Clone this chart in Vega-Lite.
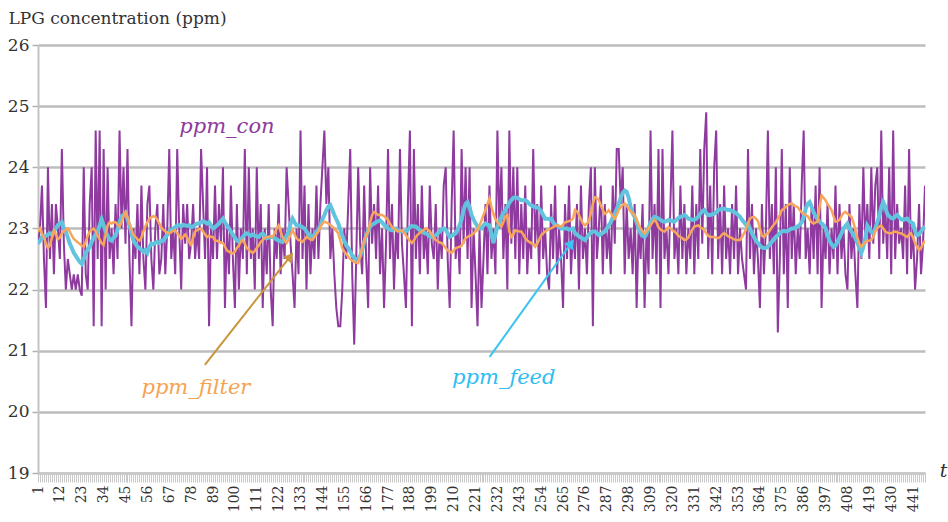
{
"$schema": "https://vega.github.io/schema/vega-lite/v6.json",
"width": 887, "height": 428,
"autosize": "none",
"padding": {"left": 38, "top": 45, "right": 23, "bottom": 49},
"background": "white",
"config": {"view": {"stroke": null}, "font": "'DejaVu Serif', serif"},
"datasets": {
"main": [
{"t":1,"c":22.75,"d":22.75,"f":22.95},{"t":2,"c":23.0,"d":22.8,"f":23.0},{"t":3,"c":23.7,"d":22.86,"f":22.92},{"t":4,"c":22.5,"d":22.85,"f":22.85},{"t":5,"c":21.7,"d":22.88,"f":22.75},{"t":6,"c":24.0,"d":22.9,"f":22.68},{"t":7,"c":22.5,"d":22.92,"f":22.72},{"t":8,"c":23.4,"d":22.9,"f":22.85},{"t":9,"c":22.25,"d":22.95,"f":22.97},{"t":10,"c":23.4,"d":23.0,"f":22.9},
{"t":11,"c":23.0,"d":23.05,"f":22.82},{"t":12,"c":22.5,"d":23.08,"f":22.85},{"t":13,"c":24.3,"d":23.1,"f":22.92},{"t":14,"c":22.75,"d":23.0,"f":22.95},{"t":15,"c":22.0,"d":22.95,"f":22.98},{"t":16,"c":22.5,"d":22.85,"f":23.0},{"t":17,"c":22.25,"d":22.75,"f":22.95},{"t":18,"c":22.0,"d":22.68,"f":22.88},{"t":19,"c":22.25,"d":22.6,"f":22.83},{"t":20,"c":22.0,"d":22.55,"f":22.8},
{"t":21,"c":22.25,"d":22.5,"f":22.77},{"t":22,"c":22.0,"d":22.45,"f":22.75},{"t":23,"c":21.9,"d":22.42,"f":22.72},{"t":24,"c":24.0,"d":22.5,"f":22.7},{"t":25,"c":22.25,"d":22.6,"f":22.78},{"t":26,"c":22.0,"d":22.65,"f":22.88},{"t":27,"c":23.4,"d":22.7,"f":22.95},{"t":28,"c":24.0,"d":22.78,"f":22.98},{"t":29,"c":21.4,"d":22.85,"f":23.0},{"t":30,"c":24.6,"d":22.9,"f":22.95},
{"t":31,"c":22.5,"d":22.95,"f":22.88},{"t":32,"c":24.6,"d":23.05,"f":22.82},{"t":33,"c":21.4,"d":23.15,"f":22.76},{"t":34,"c":24.3,"d":23.05,"f":22.73},{"t":35,"c":22.0,"d":22.95,"f":22.9},{"t":36,"c":24.0,"d":22.88,"f":23.05},{"t":37,"c":22.5,"d":22.82,"f":23.1},{"t":38,"c":23.0,"d":22.8,"f":23.08},{"t":39,"c":22.25,"d":22.85,"f":23.1},{"t":40,"c":23.4,"d":22.88,"f":23.1},
{"t":41,"c":22.5,"d":22.98,"f":23.06},{"t":42,"c":24.6,"d":23.1,"f":23.03},{"t":43,"c":23.0,"d":23.2,"f":23.1},{"t":44,"c":24.0,"d":23.22,"f":23.2},{"t":45,"c":22.75,"d":23.25,"f":23.27},{"t":46,"c":24.3,"d":23.15,"f":23.18},{"t":47,"c":22.5,"d":23.05,"f":23.08},{"t":48,"c":21.4,"d":22.92,"f":22.98},{"t":49,"c":23.0,"d":22.8,"f":22.9},{"t":50,"c":22.5,"d":22.75,"f":22.86},
{"t":51,"c":23.4,"d":22.7,"f":22.82},{"t":52,"c":22.25,"d":22.68,"f":22.8},{"t":53,"c":23.7,"d":22.65,"f":22.85},{"t":54,"c":22.5,"d":22.62,"f":22.95},{"t":55,"c":22.0,"d":22.65,"f":23.03},{"t":56,"c":23.4,"d":22.6,"f":23.1},{"t":57,"c":23.7,"d":22.7,"f":23.16},{"t":58,"c":22.5,"d":22.75,"f":23.18},{"t":59,"c":22.0,"d":22.74,"f":23.2},{"t":60,"c":23.0,"d":22.77,"f":23.19},
{"t":61,"c":23.4,"d":22.78,"f":23.14},{"t":62,"c":22.25,"d":22.76,"f":23.08},{"t":63,"c":22.5,"d":22.8,"f":23.02},{"t":64,"c":23.4,"d":22.8,"f":22.98},{"t":65,"c":22.25,"d":22.85,"f":22.95},{"t":66,"c":23.0,"d":22.9,"f":22.93},{"t":67,"c":24.3,"d":22.95,"f":22.92},{"t":68,"c":22.5,"d":22.98,"f":22.94},{"t":69,"c":23.0,"d":23.0,"f":22.96},{"t":70,"c":22.25,"d":23.02,"f":22.97},
{"t":71,"c":24.3,"d":23.05,"f":22.92},{"t":72,"c":23.0,"d":23.05,"f":22.88},{"t":73,"c":22.0,"d":23.03,"f":22.83},{"t":74,"c":23.4,"d":23.06,"f":22.86},{"t":75,"c":22.75,"d":23.05,"f":22.9},{"t":76,"c":23.4,"d":23.04,"f":22.85},{"t":77,"c":22.5,"d":23.05,"f":22.78},{"t":78,"c":22.75,"d":23.02,"f":22.73},{"t":79,"c":23.4,"d":23.03,"f":22.85},{"t":80,"c":22.5,"d":23.06,"f":22.95},
{"t":81,"c":23.0,"d":23.08,"f":22.97},{"t":82,"c":22.5,"d":23.08,"f":22.99},{"t":83,"c":24.3,"d":23.1,"f":23.0},{"t":84,"c":23.4,"d":23.12,"f":22.95},{"t":85,"c":22.5,"d":23.1,"f":22.9},{"t":86,"c":24.0,"d":23.08,"f":22.86},{"t":87,"c":21.4,"d":23.1,"f":22.88},{"t":88,"c":23.0,"d":23.05,"f":22.86},{"t":89,"c":22.5,"d":23.0,"f":22.86},{"t":90,"c":23.7,"d":23.02,"f":22.8},
{"t":91,"c":22.5,"d":23.05,"f":22.8},{"t":92,"c":23.4,"d":23.08,"f":22.78},{"t":93,"c":22.75,"d":23.12,"f":22.77},{"t":94,"c":24.0,"d":23.16,"f":22.76},{"t":95,"c":21.7,"d":23.1,"f":22.7},{"t":96,"c":23.0,"d":23.05,"f":22.64},{"t":97,"c":22.25,"d":23.0,"f":22.62},{"t":98,"c":23.7,"d":22.95,"f":22.6},{"t":99,"c":22.5,"d":22.9,"f":22.59},{"t":100,"c":21.7,"d":22.85,"f":22.62},
{"t":101,"c":23.4,"d":22.8,"f":22.68},{"t":102,"c":22.0,"d":22.78,"f":22.72},{"t":103,"c":23.0,"d":22.82,"f":22.78},{"t":104,"c":22.5,"d":22.86,"f":22.81},{"t":105,"c":24.3,"d":22.9,"f":22.75},{"t":106,"c":22.25,"d":22.92,"f":22.68},{"t":107,"c":24.0,"d":22.9,"f":22.65},{"t":108,"c":22.5,"d":22.88,"f":22.62},{"t":109,"c":23.0,"d":22.9,"f":22.6},{"t":110,"c":22.0,"d":22.88,"f":22.63},
{"t":111,"c":24.0,"d":22.87,"f":22.68},{"t":112,"c":22.5,"d":22.86,"f":22.72},{"t":113,"c":23.4,"d":22.9,"f":22.78},{"t":114,"c":21.7,"d":22.92,"f":22.81},{"t":115,"c":23.0,"d":22.88,"f":22.84},{"t":116,"c":22.25,"d":22.84,"f":22.86},{"t":117,"c":23.4,"d":22.85,"f":22.86},{"t":118,"c":22.0,"d":22.86,"f":22.87},{"t":119,"c":21.4,"d":22.86,"f":22.86},{"t":120,"c":23.0,"d":22.84,"f":22.92},
{"t":121,"c":22.5,"d":22.82,"f":23.0},{"t":122,"c":23.4,"d":22.8,"f":23.05},{"t":123,"c":22.25,"d":22.79,"f":22.95},{"t":124,"c":23.0,"d":22.78,"f":22.86},{"t":125,"c":22.5,"d":22.82,"f":22.8},{"t":126,"c":24.0,"d":22.88,"f":22.76},{"t":127,"c":23.4,"d":22.95,"f":22.82},{"t":128,"c":22.75,"d":23.08,"f":22.9},{"t":129,"c":22.25,"d":23.16,"f":22.97},{"t":130,"c":21.7,"d":23.1,"f":22.9},
{"t":131,"c":23.0,"d":23.05,"f":22.84},{"t":132,"c":22.25,"d":23.05,"f":22.81},{"t":133,"c":24.6,"d":23.04,"f":22.8},{"t":134,"c":22.5,"d":23.02,"f":22.78},{"t":135,"c":23.7,"d":23.0,"f":22.82},{"t":136,"c":22.0,"d":22.95,"f":22.86},{"t":137,"c":23.4,"d":22.9,"f":22.84},{"t":138,"c":22.25,"d":22.88,"f":22.82},{"t":139,"c":23.0,"d":22.86,"f":22.81},{"t":140,"c":22.5,"d":22.9,"f":22.86},
{"t":141,"c":23.7,"d":22.95,"f":22.9},{"t":142,"c":22.5,"d":22.98,"f":22.95},{"t":143,"c":23.4,"d":23.05,"f":23.02},{"t":144,"c":24.0,"d":23.15,"f":23.08},{"t":145,"c":24.6,"d":23.22,"f":23.11},{"t":146,"c":23.4,"d":23.3,"f":23.1},{"t":147,"c":24.0,"d":23.36,"f":23.08},{"t":148,"c":22.5,"d":23.38,"f":23.06},{"t":149,"c":23.0,"d":23.3,"f":23.03},{"t":150,"c":22.25,"d":23.22,"f":23.0},
{"t":151,"c":21.7,"d":23.15,"f":22.96},{"t":152,"c":21.4,"d":23.08,"f":22.92},{"t":153,"c":21.4,"d":22.98,"f":22.8},{"t":154,"c":22.0,"d":22.88,"f":22.68},{"t":155,"c":23.0,"d":22.8,"f":22.62},{"t":156,"c":22.5,"d":22.72,"f":22.58},{"t":157,"c":23.4,"d":22.68,"f":22.54},{"t":158,"c":24.3,"d":22.62,"f":22.5},{"t":159,"c":22.25,"d":22.56,"f":22.47},{"t":160,"c":21.1,"d":22.52,"f":22.45},
{"t":161,"c":22.5,"d":22.49,"f":22.44},{"t":162,"c":24.0,"d":22.5,"f":22.43},{"t":163,"c":22.75,"d":22.55,"f":22.55},{"t":164,"c":22.25,"d":22.65,"f":22.68},{"t":165,"c":23.7,"d":22.78,"f":22.8},{"t":166,"c":22.5,"d":22.88,"f":22.88},{"t":167,"c":21.7,"d":22.96,"f":22.95},{"t":168,"c":24.0,"d":23.03,"f":23.1},{"t":169,"c":22.75,"d":23.06,"f":23.22},{"t":170,"c":23.4,"d":23.08,"f":23.27},
{"t":171,"c":22.5,"d":23.1,"f":23.25},{"t":172,"c":23.7,"d":23.12,"f":23.22},{"t":173,"c":22.25,"d":23.13,"f":23.22},{"t":174,"c":23.0,"d":23.1,"f":23.22},{"t":175,"c":21.7,"d":23.06,"f":23.2},{"t":176,"c":22.75,"d":23.03,"f":23.17},{"t":177,"c":24.3,"d":23.0,"f":23.14},{"t":178,"c":22.5,"d":22.98,"f":23.08},{"t":179,"c":23.4,"d":22.97,"f":23.02},{"t":180,"c":22.0,"d":23.0,"f":23.0},
{"t":181,"c":23.0,"d":23.0,"f":22.97},{"t":182,"c":22.5,"d":22.97,"f":22.95},{"t":183,"c":24.3,"d":22.96,"f":22.96},{"t":184,"c":22.75,"d":22.95,"f":22.97},{"t":185,"c":22.25,"d":22.95,"f":22.93},{"t":186,"c":21.7,"d":22.95,"f":22.89},{"t":187,"c":23.4,"d":22.98,"f":22.84},{"t":188,"c":24.6,"d":23.02,"f":22.8},{"t":189,"c":21.4,"d":23.04,"f":22.76},{"t":190,"c":24.3,"d":23.03,"f":22.8},
{"t":191,"c":22.5,"d":23.03,"f":22.86},{"t":192,"c":23.4,"d":23.0,"f":22.9},{"t":193,"c":22.25,"d":22.97,"f":22.93},{"t":194,"c":23.7,"d":22.95,"f":22.95},{"t":195,"c":22.5,"d":22.93,"f":22.98},{"t":196,"c":23.0,"d":22.92,"f":23.0},{"t":197,"c":22.25,"d":22.9,"f":22.98},{"t":198,"c":23.7,"d":22.87,"f":22.95},{"t":199,"c":22.75,"d":22.86,"f":22.9},{"t":200,"c":22.5,"d":22.87,"f":22.85},
{"t":201,"c":23.4,"d":22.89,"f":22.81},{"t":202,"c":22.0,"d":22.92,"f":22.79},{"t":203,"c":23.0,"d":22.95,"f":22.77},{"t":204,"c":22.5,"d":22.98,"f":22.76},{"t":205,"c":23.7,"d":23.0,"f":22.72},{"t":206,"c":24.0,"d":22.98,"f":22.68},{"t":207,"c":22.5,"d":22.92,"f":22.64},{"t":208,"c":21.7,"d":22.86,"f":22.62},{"t":209,"c":23.4,"d":22.88,"f":22.6},{"t":210,"c":24.6,"d":22.9,"f":22.64},
{"t":211,"c":22.5,"d":22.92,"f":22.68},{"t":212,"c":23.0,"d":22.98,"f":22.69},{"t":213,"c":22.25,"d":23.05,"f":22.7},{"t":214,"c":24.3,"d":23.15,"f":22.72},{"t":215,"c":22.75,"d":23.3,"f":22.78},{"t":216,"c":24.0,"d":23.4,"f":22.84},{"t":217,"c":22.5,"d":23.43,"f":22.86},{"t":218,"c":24.0,"d":23.35,"f":22.88},{"t":219,"c":21.7,"d":23.22,"f":22.89},{"t":220,"c":23.0,"d":23.15,"f":22.92},
{"t":221,"c":22.25,"d":23.08,"f":22.95},{"t":222,"c":21.4,"d":23.04,"f":22.98},{"t":223,"c":23.0,"d":23.0,"f":23.05},{"t":224,"c":21.7,"d":23.0,"f":23.13},{"t":225,"c":22.5,"d":23.05,"f":23.22},{"t":226,"c":23.4,"d":23.08,"f":23.3},{"t":227,"c":22.25,"d":23.06,"f":23.4},{"t":228,"c":23.7,"d":23.05,"f":23.49},{"t":229,"c":22.5,"d":22.9,"f":23.35},{"t":230,"c":23.0,"d":22.76,"f":23.24},
{"t":231,"c":22.25,"d":22.9,"f":23.15},{"t":232,"c":24.6,"d":23.03,"f":23.1},{"t":233,"c":23.0,"d":23.1,"f":23.06},{"t":234,"c":24.0,"d":23.18,"f":23.03},{"t":235,"c":22.5,"d":23.25,"f":23.1},{"t":236,"c":23.4,"d":23.3,"f":23.2},{"t":237,"c":22.0,"d":23.36,"f":23.22},{"t":238,"c":24.6,"d":23.42,"f":22.95},{"t":239,"c":22.75,"d":23.46,"f":22.86},{"t":240,"c":24.0,"d":23.5,"f":22.9},
{"t":241,"c":22.5,"d":23.51,"f":22.97},{"t":242,"c":24.0,"d":23.5,"f":22.96},{"t":243,"c":22.25,"d":23.48,"f":22.95},{"t":244,"c":23.4,"d":23.46,"f":22.95},{"t":245,"c":22.5,"d":23.46,"f":22.9},{"t":246,"c":23.7,"d":23.46,"f":22.84},{"t":247,"c":22.25,"d":23.44,"f":22.8},{"t":248,"c":23.0,"d":23.4,"f":22.78},{"t":249,"c":22.5,"d":23.38,"f":22.76},{"t":250,"c":24.3,"d":23.36,"f":22.74},
{"t":251,"c":22.75,"d":23.35,"f":22.7},{"t":252,"c":23.4,"d":23.34,"f":22.75},{"t":253,"c":22.25,"d":23.32,"f":22.82},{"t":254,"c":23.7,"d":23.28,"f":22.89},{"t":255,"c":22.5,"d":23.22,"f":22.92},{"t":256,"c":23.0,"d":23.16,"f":22.95},{"t":257,"c":22.25,"d":23.16,"f":22.97},{"t":258,"c":22.0,"d":23.15,"f":22.99},{"t":259,"c":23.4,"d":23.16,"f":23.0},{"t":260,"c":22.5,"d":23.1,"f":23.02},
{"t":261,"c":23.7,"d":23.06,"f":23.04},{"t":262,"c":22.25,"d":23.05,"f":23.05},{"t":263,"c":23.0,"d":23.02,"f":23.04},{"t":264,"c":22.5,"d":23.0,"f":23.03},{"t":265,"c":21.7,"d":23.0,"f":23.06},{"t":266,"c":23.4,"d":23.0,"f":23.1},{"t":267,"c":22.5,"d":23.0,"f":23.11},{"t":268,"c":23.7,"d":22.98,"f":23.12},{"t":269,"c":22.25,"d":22.99,"f":23.13},{"t":270,"c":23.0,"d":23.0,"f":23.16},
{"t":271,"c":22.5,"d":22.92,"f":23.3},{"t":272,"c":23.4,"d":22.9,"f":23.28},{"t":273,"c":22.0,"d":22.87,"f":23.22},{"t":274,"c":23.7,"d":22.85,"f":23.15},{"t":275,"c":22.5,"d":22.83,"f":23.08},{"t":276,"c":23.0,"d":22.81,"f":23.05},{"t":277,"c":22.25,"d":22.85,"f":23.08},{"t":278,"c":23.4,"d":22.9,"f":23.12},{"t":279,"c":24.0,"d":22.93,"f":23.25},{"t":280,"c":21.4,"d":22.95,"f":23.4},
{"t":281,"c":24.0,"d":22.95,"f":23.51},{"t":282,"c":22.5,"d":22.92,"f":23.5},{"t":283,"c":23.0,"d":22.89,"f":23.46},{"t":284,"c":23.7,"d":22.9,"f":23.38},{"t":285,"c":22.25,"d":22.93,"f":23.3},{"t":286,"c":23.4,"d":22.95,"f":23.24},{"t":287,"c":22.5,"d":23.0,"f":23.26},{"t":288,"c":23.0,"d":23.05,"f":23.3},{"t":289,"c":22.25,"d":23.1,"f":23.25},{"t":290,"c":23.7,"d":23.18,"f":23.2},
{"t":291,"c":22.75,"d":23.24,"f":23.16},{"t":292,"c":24.3,"d":23.32,"f":23.22},{"t":293,"c":24.3,"d":23.4,"f":23.3},{"t":294,"c":23.4,"d":23.5,"f":23.35},{"t":295,"c":24.0,"d":23.58,"f":23.38},{"t":296,"c":22.25,"d":23.62,"f":23.41},{"t":297,"c":23.4,"d":23.6,"f":23.38},{"t":298,"c":22.5,"d":23.5,"f":23.32},{"t":299,"c":23.0,"d":23.35,"f":23.28},{"t":300,"c":22.25,"d":23.25,"f":23.25},
{"t":301,"c":23.4,"d":23.19,"f":23.22},{"t":302,"c":21.7,"d":23.1,"f":23.15},{"t":303,"c":23.0,"d":23.0,"f":23.06},{"t":304,"c":22.5,"d":22.92,"f":23.0},{"t":305,"c":23.4,"d":22.88,"f":22.95},{"t":306,"c":21.7,"d":22.86,"f":22.92},{"t":307,"c":23.0,"d":22.92,"f":22.96},{"t":308,"c":22.25,"d":23.0,"f":23.0},{"t":309,"c":24.6,"d":23.1,"f":23.05},{"t":310,"c":22.5,"d":23.15,"f":23.1},
{"t":311,"c":23.4,"d":23.19,"f":23.14},{"t":312,"c":22.25,"d":23.18,"f":23.1},{"t":313,"c":24.3,"d":23.16,"f":23.02},{"t":314,"c":21.7,"d":23.14,"f":22.98},{"t":315,"c":24.3,"d":23.12,"f":22.96},{"t":316,"c":22.5,"d":23.11,"f":22.95},{"t":317,"c":23.0,"d":23.12,"f":22.98},{"t":318,"c":22.25,"d":23.14,"f":23.02},{"t":319,"c":23.4,"d":23.13,"f":23.0},{"t":320,"c":24.6,"d":23.12,"f":22.97},
{"t":321,"c":22.5,"d":23.11,"f":22.95},{"t":322,"c":23.0,"d":23.14,"f":22.92},{"t":323,"c":22.25,"d":23.17,"f":22.88},{"t":324,"c":23.7,"d":23.19,"f":22.86},{"t":325,"c":22.5,"d":23.2,"f":22.84},{"t":326,"c":23.4,"d":23.22,"f":22.81},{"t":327,"c":22.25,"d":23.2,"f":22.82},{"t":328,"c":23.0,"d":23.16,"f":22.85},{"t":329,"c":22.5,"d":23.15,"f":22.92},{"t":330,"c":23.7,"d":23.14,"f":22.98},
{"t":331,"c":22.25,"d":23.14,"f":23.03},{"t":332,"c":23.4,"d":23.16,"f":23.04},{"t":333,"c":22.5,"d":23.19,"f":23.05},{"t":334,"c":24.3,"d":23.24,"f":23.02},{"t":335,"c":22.75,"d":23.28,"f":23.0},{"t":336,"c":24.3,"d":23.3,"f":22.97},{"t":337,"c":24.9,"d":23.25,"f":22.92},{"t":338,"c":22.5,"d":23.22,"f":22.88},{"t":339,"c":23.7,"d":23.22,"f":22.86},{"t":340,"c":22.25,"d":23.23,"f":22.86},
{"t":341,"c":24.0,"d":23.24,"f":22.86},{"t":342,"c":24.6,"d":23.26,"f":22.85},{"t":343,"c":22.5,"d":23.3,"f":22.84},{"t":344,"c":23.4,"d":23.31,"f":22.86},{"t":345,"c":22.25,"d":23.32,"f":22.9},{"t":346,"c":23.7,"d":23.32,"f":22.92},{"t":347,"c":22.5,"d":23.31,"f":22.9},{"t":348,"c":23.0,"d":23.3,"f":22.87},{"t":349,"c":22.25,"d":23.3,"f":22.86},{"t":350,"c":23.4,"d":23.28,"f":22.84},
{"t":351,"c":22.5,"d":23.27,"f":22.82},{"t":352,"c":23.7,"d":23.25,"f":22.81},{"t":353,"c":22.25,"d":23.22,"f":22.81},{"t":354,"c":23.0,"d":23.19,"f":22.81},{"t":355,"c":22.5,"d":23.14,"f":22.86},{"t":356,"c":22.25,"d":23.1,"f":22.92},{"t":357,"c":22.0,"d":23.06,"f":22.98},{"t":358,"c":24.3,"d":23.08,"f":23.08},{"t":359,"c":22.5,"d":23.0,"f":23.16},{"t":360,"c":23.4,"d":22.92,"f":23.18},
{"t":361,"c":22.25,"d":22.86,"f":23.19},{"t":362,"c":23.0,"d":22.8,"f":23.16},{"t":363,"c":22.5,"d":22.76,"f":23.12},{"t":364,"c":21.7,"d":22.72,"f":23.0},{"t":365,"c":23.4,"d":22.69,"f":22.88},{"t":366,"c":22.25,"d":22.68,"f":22.86},{"t":367,"c":23.0,"d":22.68,"f":22.9},{"t":368,"c":24.6,"d":22.7,"f":22.92},{"t":369,"c":22.5,"d":22.74,"f":22.97},{"t":370,"c":23.4,"d":22.78,"f":23.02},
{"t":371,"c":22.25,"d":22.82,"f":23.06},{"t":372,"c":24.0,"d":22.86,"f":23.1},{"t":373,"c":21.3,"d":22.89,"f":23.16},{"t":374,"c":22.5,"d":22.92,"f":23.22},{"t":375,"c":24.3,"d":22.95,"f":23.3},{"t":376,"c":22.25,"d":22.96,"f":23.32},{"t":377,"c":23.4,"d":22.95,"f":23.35},{"t":378,"c":21.7,"d":22.96,"f":23.38},{"t":379,"c":24.0,"d":22.98,"f":23.4},{"t":380,"c":22.5,"d":23.0,"f":23.41},
{"t":381,"c":23.4,"d":23.0,"f":23.38},{"t":382,"c":22.25,"d":23.02,"f":23.36},{"t":383,"c":23.0,"d":23.03,"f":23.35},{"t":384,"c":22.5,"d":23.06,"f":23.3},{"t":385,"c":23.7,"d":23.1,"f":23.26},{"t":386,"c":24.6,"d":23.18,"f":23.24},{"t":387,"c":22.5,"d":23.32,"f":23.22},{"t":388,"c":23.0,"d":23.4,"f":23.2},{"t":389,"c":22.25,"d":23.43,"f":23.15},{"t":390,"c":23.4,"d":23.35,"f":23.1},
{"t":391,"c":22.5,"d":23.26,"f":23.08},{"t":392,"c":23.7,"d":23.2,"f":23.1},{"t":393,"c":22.25,"d":23.15,"f":23.11},{"t":394,"c":24.0,"d":23.11,"f":23.35},{"t":395,"c":21.7,"d":23.08,"f":23.54},{"t":396,"c":23.0,"d":23.05,"f":23.5},{"t":397,"c":22.5,"d":23.0,"f":23.46},{"t":398,"c":23.4,"d":22.9,"f":23.4},{"t":399,"c":22.25,"d":22.8,"f":23.35},{"t":400,"c":23.0,"d":22.74,"f":23.3},
{"t":401,"c":22.5,"d":22.7,"f":23.2},{"t":402,"c":23.7,"d":22.72,"f":23.11},{"t":403,"c":22.25,"d":22.78,"f":23.12},{"t":404,"c":23.4,"d":22.85,"f":23.14},{"t":405,"c":22.5,"d":22.92,"f":23.2},{"t":406,"c":23.0,"d":23.0,"f":23.25},{"t":407,"c":22.25,"d":23.04,"f":23.27},{"t":408,"c":22.0,"d":23.08,"f":23.24},{"t":409,"c":23.4,"d":23.0,"f":23.22},{"t":410,"c":22.5,"d":22.95,"f":23.19},
{"t":411,"c":23.0,"d":22.9,"f":23.1},{"t":412,"c":22.25,"d":22.84,"f":22.97},{"t":413,"c":21.7,"d":22.76,"f":22.85},{"t":414,"c":23.4,"d":22.68,"f":22.75},{"t":415,"c":22.5,"d":22.6,"f":22.7},{"t":416,"c":24.0,"d":22.7,"f":22.74},{"t":417,"c":22.75,"d":22.85,"f":22.78},{"t":418,"c":23.4,"d":23.05,"f":22.8},{"t":419,"c":22.5,"d":23.0,"f":22.8},{"t":420,"c":24.0,"d":22.94,"f":22.81},
{"t":421,"c":22.75,"d":22.92,"f":22.86},{"t":422,"c":23.7,"d":23.0,"f":22.95},{"t":423,"c":24.0,"d":23.1,"f":23.0},{"t":424,"c":22.5,"d":23.2,"f":23.03},{"t":425,"c":24.6,"d":23.35,"f":23.05},{"t":426,"c":22.75,"d":23.43,"f":23.0},{"t":427,"c":23.4,"d":23.35,"f":22.95},{"t":428,"c":22.5,"d":23.24,"f":22.93},{"t":429,"c":24.0,"d":23.2,"f":22.92},{"t":430,"c":22.25,"d":23.17,"f":22.92},
{"t":431,"c":24.6,"d":23.16,"f":22.94},{"t":432,"c":22.5,"d":23.2,"f":22.95},{"t":433,"c":23.4,"d":23.22,"f":22.94},{"t":434,"c":22.75,"d":23.18,"f":22.92},{"t":435,"c":23.0,"d":23.15,"f":22.92},{"t":436,"c":22.5,"d":23.14,"f":22.9},{"t":437,"c":23.7,"d":23.15,"f":22.88},{"t":438,"c":22.25,"d":23.16,"f":22.86},{"t":439,"c":24.3,"d":23.12,"f":22.9},{"t":440,"c":22.5,"d":23.1,"f":22.92},
{"t":441,"c":23.0,"d":23.08,"f":22.85},{"t":442,"c":22.0,"d":22.95,"f":22.76},{"t":443,"c":22.5,"d":22.89,"f":22.7},{"t":444,"c":23.4,"d":22.9,"f":22.65},{"t":445,"c":22.25,"d":22.95,"f":22.68},{"t":446,"c":22.75,"d":23.0,"f":22.75},{"t":447,"c":23.7,"d":23.03,"f":22.8}
],
"labels": [
{"name":"ppm_con","t":96,"v":24.66},
{"name":"ppm_filter","t":80.4,"v":20.39},
{"name":"ppm_feed","t":235.2,"v":20.55}
],
"arrows": [
{"name":"filter_arrow","t":84.9,"v":20.77,"t2":127.8,"v2":22.54},
{"name":"feed_arrow","t":228.1,"v":20.9,"t2":269.1,"v2":22.76}
]
},
"layer": [
{"data":{"name":"main"},
 "mark":{"type":"line","color":"#8e3a9e","strokeWidth":2,"clip":true},
 "encoding":{
  "x":{"field":"t","type":"quantitative","scale":{"domain":[1,447],"nice":false,"zero":false},
   "axis":{"tickCount":446,"labelExpr":"(datum.value - 1) % 11 === 0 ? format(datum.value, 'd') : ''","labelAngle":-90,"labelFont":"'DejaVu Serif', serif","labelFontSize":14,"labelColor":"#333333","labelOverlap":false,"labelFlush":false,"labelPadding":3,"tickColor":"#c8c8c8","tickSize":9,"tickWidth":1,"domainColor":"#c8c8c8","domainWidth":2,"grid":false,
    "title":"t","titleFont":"'DejaVu Serif', serif","titleFontStyle":"italic","titleFontSize":19,"titleFontWeight":"normal","titleColor":"#333333","titleAngle":0,"titleX":905,"titleY":-3,"titleAlign":"center","titleBaseline":"middle"}},
  "y":{"field":"c","type":"quantitative","scale":{"domain":[19,26],"nice":false,"zero":false},
   "axis":{"values":[19,20,21,22,23,24,25,26],"format":"d","grid":true,"gridColor":"#bdbdbd","gridWidth":2.5,"domainColor":"#c4c4c4","domainWidth":2,"tickColor":"#b0b0b0","tickSize":6,"tickWidth":1.5,"labelFont":"'DejaVu Serif', serif","labelFontSize":17,"labelColor":"#333333","labelPadding":3,
    "title":"LPG concentration (ppm)","titleFont":"'DejaVu Serif', serif","titleFontSize":17,"titleFontWeight":"normal","titleColor":"#333333","titleAngle":0,"titleAlign":"left","titleBaseline":"middle","titleX":-30,"titleY":-27}}
 }},
{"data":{"name":"main"},
 "mark":{"type":"line","color":"#62c3de","strokeWidth":4,"clip":true},
 "encoding":{"x":{"field":"t","type":"quantitative"},"y":{"field":"d","type":"quantitative"}}},
{"data":{"name":"main"},
 "mark":{"type":"line","color":"#f8a65b","strokeWidth":2.5,"clip":true},
 "encoding":{"x":{"field":"t","type":"quantitative"},"y":{"field":"f","type":"quantitative"}}},
{"data":{"name":"arrows"},
 "mark":{"type":"rule","strokeWidth":2},
 "encoding":{"x":{"field":"t","type":"quantitative"},"y":{"field":"v","type":"quantitative"},"x2":{"field":"t2"},"y2":{"field":"v2"},
  "color":{"field":"name","type":"nominal","scale":{"domain":["ppm_con","ppm_filter","ppm_feed","filter_arrow","feed_arrow"],"range":["#8e3a9e","#f5a352","#2fbdf0","#c8963e","#3cc3f2"]},"legend":null}}},
{"data":{"name":"arrows"},
 "transform":[{"filter":"datum.name === 'filter_arrow'"}],
 "mark":{"type":"point","shape":"triangle-up","filled":true,"opacity":1,"size":120,"angle":37},
 "encoding":{"x":{"field":"t2","type":"quantitative"},"y":{"field":"v2","type":"quantitative"},
  "color":{"field":"name","type":"nominal","scale":{"domain":["ppm_con","ppm_filter","ppm_feed","filter_arrow","feed_arrow"],"range":["#8e3a9e","#f5a352","#2fbdf0","#c8963e","#3cc3f2"]},"legend":null}}},
{"data":{"name":"arrows"},
 "transform":[{"filter":"datum.name === 'feed_arrow'"}],
 "mark":{"type":"point","shape":"triangle-up","filled":true,"opacity":1,"size":120,"angle":36},
 "encoding":{"x":{"field":"t2","type":"quantitative"},"y":{"field":"v2","type":"quantitative"},
  "color":{"field":"name","type":"nominal","scale":{"domain":["ppm_con","ppm_filter","ppm_feed","filter_arrow","feed_arrow"],"range":["#8e3a9e","#f5a352","#2fbdf0","#c8963e","#3cc3f2"]},"legend":null}}},
{"data":{"name":"labels"},
 "mark":{"type":"text","font":"'DejaVu Serif', serif","fontStyle":"italic","fontSize":21,"align":"center","baseline":"middle"},
 "encoding":{"x":{"field":"t","type":"quantitative"},"y":{"field":"v","type":"quantitative"},"text":{"field":"name"},
  "color":{"field":"name","type":"nominal","scale":{"domain":["ppm_con","ppm_filter","ppm_feed","filter_arrow","feed_arrow"],"range":["#8e3a9e","#f5a352","#2fbdf0","#c8963e","#3cc3f2"]},"legend":null}}}
]
}
